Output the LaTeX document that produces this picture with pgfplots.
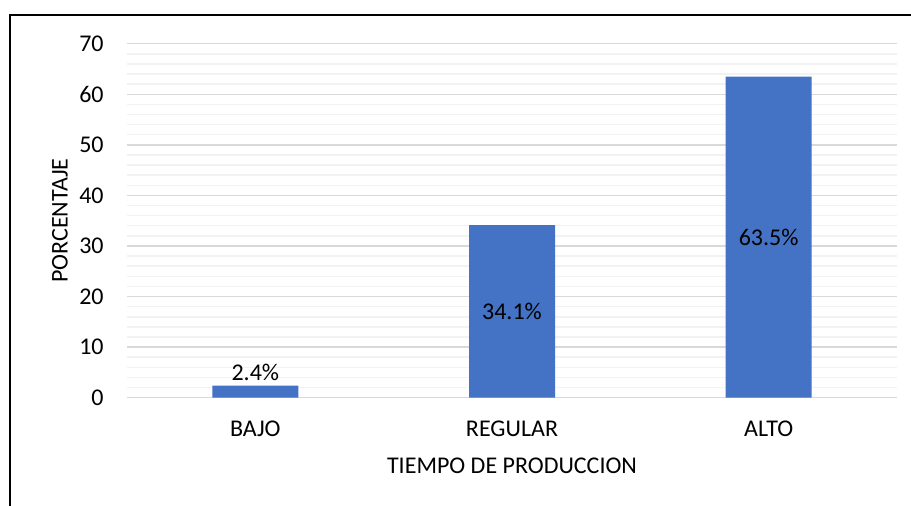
\documentclass[border=0pt]{standalone}
\usepackage{fontspec}
\setmainfont{Carlito}
\usepackage{pgfplots}
\pgfplotsset{compat=1.18}
\definecolor{barblue}{HTML}{4472C4}
\definecolor{majgrid}{HTML}{D9D9D9}
\definecolor{mingrid}{HTML}{F2F2F2}
\begin{document}
\fontsize{12}{14}\selectfont
\begin{tikzpicture}[x=0.5pt,y=0.5pt]
\begin{axis}[at={(63.5pt,54.15pt)},anchor=south west,scale only axis,width=385pt,height=177pt,
  ymin=0,ymax=70,xmin=-0.5,xmax=2.5,ybar,bar width=43pt,
  xtick={0,1,2},xticklabels={BAJO,REGULAR,ALTO},
  ytick={0,10,...,70},minor y tick num=4,
  ymajorgrids,yminorgrids,
  major grid style={draw=majgrid,line width=0.75pt},
  minor grid style={draw=mingrid,line width=0.75pt},
  axis line style={draw=none},major tick length=0pt,minor tick length=0pt,
  /pgf/number format/assume math mode=true,
  x tick label style={anchor=base,yshift=-19.2pt},
  y tick label style={anchor=east,inner sep=0pt,xshift=-11.5pt},
  xlabel={TIEMPO DE PRODUCCION},ylabel={PORCENTAJE},
  xlabel style={at={(axis description cs:0.5,0)},anchor=base,yshift=-37.8pt},
  ylabel style={at={(axis description cs:-0.087,0.5)},anchor=center}]
\addplot[fill=barblue,draw=none,nodes near coords,point meta=explicit symbolic,
  visualization depends on=rawy \as \ry,
  nodes near coords style={anchor=center,text=black,yshift={(\ry>10) ? (-1.265*\ry) : 6.8}}]
  coordinates {(0,2.4)[2.4\%] (1,34.1)[34.1\%] (2,63.5)[63.5\%]};
\end{axis}
\draw[line width=1pt] (10,-100) -- (10,491) -- (1100,491);
\pgfresetboundingbox
\path[use as bounding box] (0,0) rectangle (911,506);
\end{tikzpicture}
\end{document}
